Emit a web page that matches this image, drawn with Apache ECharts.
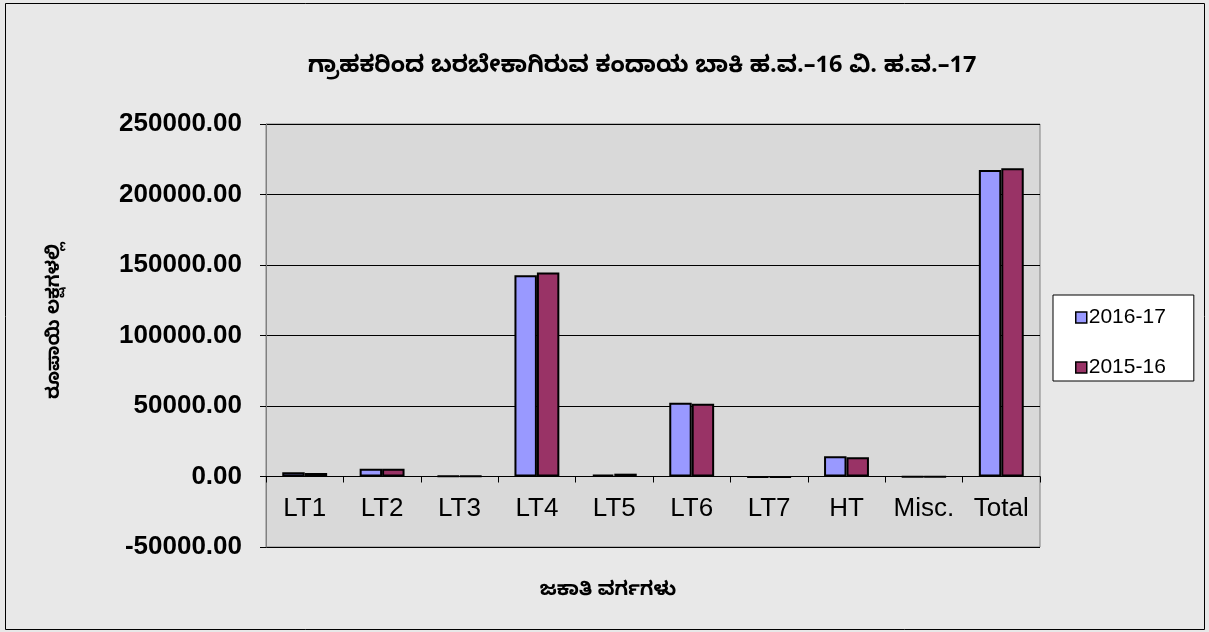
<!DOCTYPE html>
<html>
<head>
<meta charset="utf-8">
<script src="https://cdn.jsdelivr.net/npm/echarts@6/dist/echarts.min.js"></script>
<style>
  html, body { margin: 0; padding: 0; background: #e8e8e8; }
  #chart { width: 1209px; height: 632px; }
</style>
</head>
<body>
<div id="chart"></div>
<script>
// data
var categories = ['LT1', 'LT2', 'LT3', 'LT4', 'LT5', 'LT6', 'LT7', 'HT', 'Misc.', 'Total'];
var values1617 = [3000, 5500, 500, 142700, 1300, 52300, -700, 14400, -300, 217300];
var values1516 = [2500, 5500, 400, 144700, 2000, 51600, -600, 13700, -300, 218700];
var yTicks = { min: -50000, max: 250000, step: 50000 };

var kn = "'Noto Sans Kannada', 'Noto Sans', 'Liberation Sans', sans-serif";
var ar = "'Liberation Sans', Arial, sans-serif";

var chart = echarts.init(document.getElementById('chart'));

var barStyle = function (color) {
    return { color: color, borderColor: '#000', borderWidth: 2 };
};

var option = {
    backgroundColor: '#e8e8e8',
    animation: false,
    title: {
        text: 'ಗ್ರಾಹಕರಿಂದ ಬರಬೇಕಾಗಿರುವ ಕಂದಾಯ ಬಾಕಿ ಹ.ವ.–16 ವಿ. ಹ.ವ.–17',
        left: 637,
        top: 53,
        textAlign: 'center',
        textStyle: { fontFamily: kn, fontSize: 23.5, fontWeight: 'bold', color: '#000' }
    },
    legend: {
        orient: 'vertical',
        left: 1053,
        top: 295,
        padding: [12, 28, 3, 22],
        itemGap: 29,
        itemWidth: 11,
        itemHeight: 11,
        backgroundColor: '#fff',
        borderColor: '#000',
        borderWidth: 1,
        borderRadius: 0,
        data: [
            { name: '2016-17', icon: 'rect', itemStyle: { color: '#9999ff', borderColor: '#000', borderWidth: 1.5 } },
            { name: '2015-16', icon: 'rect', itemStyle: { color: '#993366', borderColor: '#000', borderWidth: 1.5 } }
        ],
        textStyle: { fontFamily: ar, fontSize: 21, color: '#000', padding: [0, 0, 0, -3] }
    },
    graphic: [
        {
            type: 'rect',
            shape: { x: 5.5, y: 3.5, width: 1199, height: 626 },
            style: { fill: null, stroke: '#000', lineWidth: 1 },
            silent: true
        },
        {
            type: 'text',
            x: 608,
            y: 593,
            style: { text: 'ಜಕಾತಿ ವರ್ಗಗಳು', fontFamily: kn, fontSize: 19.5, fontWeight: 'bold', fill: '#000', align: 'center', verticalAlign: 'middle' }
        },
        {
            type: 'text',
            x: 57,
            y: 321,
            rotation: Math.PI / 2,
            style: { text: 'ರೂಪಾಯಿ ಲಕ್ಷಗಳಲ್ಲಿ', fontFamily: kn, fontSize: 18.5, fontWeight: 'bold', fill: '#000', align: 'center', verticalAlign: 'middle' }
        }
    ],
    grid: {
        left: 266,
        right: 169,
        top: 124,
        bottom: 85,
        show: true,
        backgroundColor: '#d9d9d9',
        borderColor: '#808080',
        borderWidth: 1
    },
    xAxis: {
        type: 'category',
        data: categories,
        axisLine: { onZero: true, lineStyle: { color: '#000', width: 1 } },
        axisTick: { show: true, length: 6, lineStyle: { color: '#000' } },
        axisLabel: { interval: 0, hideOverlap: false, margin: -51, fontFamily: ar, fontSize: 26, color: '#000' }
    },
    yAxis: {
        type: 'value',
        min: yTicks.min,
        max: yTicks.max,
        interval: yTicks.step,
        axisLine: { show: true, lineStyle: { color: '#808080' } },
        axisTick: { show: true, length: 6, lineStyle: { color: '#000' } },
        splitLine: { lineStyle: { color: '#000', width: 1 } },
        axisLabel: {
            margin: 24,
            fontFamily: ar,
            fontSize: 26,
            fontWeight: 'bold',
            color: '#000',
            formatter: function (v) { return v.toFixed(2); }
        }
    },
    series: [
        {
            name: '2016-17',
            type: 'bar',
            data: values1617,
            barGap: '0%',
            barCategoryGap: '42%',
            itemStyle: barStyle('#9999ff')
        },
        {
            name: '2015-16',
            type: 'bar',
            data: values1516,
            itemStyle: barStyle('#993366')
        }
    ]
};

chart.setOption(option);
</script>
</body>
</html>
